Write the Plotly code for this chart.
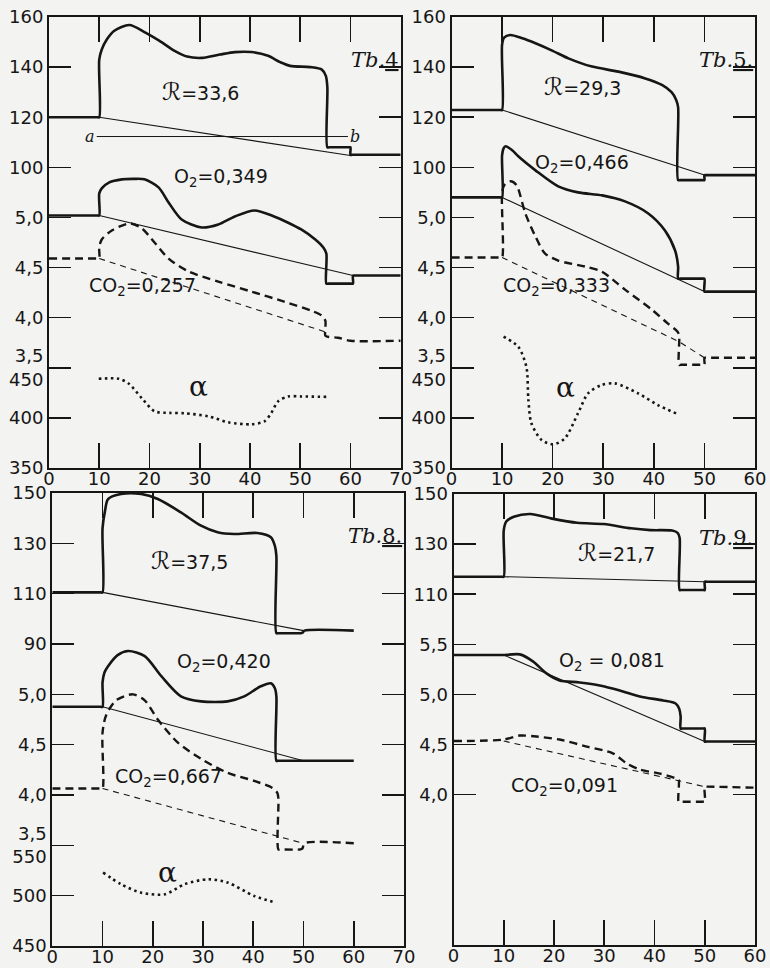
import plotly.graph_objects as go

# ---------------- DATA ----------------
# Tb.4
t4_R_x = [0, 9.6, 10, 10, 10.5, 11.5, 13, 16, 19, 22, 25, 27.5, 30.5, 34, 37, 40.3, 43.6, 46, 48, 52, 54.3, 55.1, 55.4, 55.4, 55.8, 59.7, 60, 60, 60.4, 70]
t4_R_y = [120, 120, 120, 143, 147, 151, 154.5, 156.8, 154, 150.5, 146.5, 144.2, 143.7, 145, 146, 146, 144.5, 142, 140.5, 140, 139, 136.5, 132, 108, 108, 108, 108, 105, 105, 105]
t4_Rb_x = [10, 60]
t4_Rb_y = [120, 104.7]
t4_ab_x = [9.5, 59.5]
t4_ab_y = [112.3, 112.3]
t4_O2_x = [0, 9.6, 10, 10, 10.5, 12, 14.5, 17, 19, 21.8, 23.8, 26.4, 30.4, 33.7, 37, 40.9, 44.8, 47.5, 50.2, 53, 54.6, 55.2, 55.2, 55.6, 60.1, 60.5, 60.5, 60.9, 70]
t4_O2_y = [5.02, 5.02, 5.02, 5.24, 5.29, 5.35, 5.38, 5.385, 5.38, 5.30, 5.15, 4.98, 4.90, 4.93, 5.01, 5.07, 5.01, 4.95, 4.88, 4.78, 4.70, 4.64, 4.34, 4.34, 4.34, 4.34, 4.42, 4.42, 4.42]
t4_O2b_x = [10, 60.5]
t4_O2b_y = [5.02, 4.42]
t4_CO2_x = [0, 9.6, 10, 10, 10.5, 12.5, 16.1, 18.5, 21, 23.8, 27.8, 33.7, 40.3, 46.8, 52.2, 54.3, 55, 55, 55.4, 57.5, 60, 70]
t4_CO2_y = [4.59, 4.59, 4.59, 4.70, 4.78, 4.87, 4.94, 4.89, 4.75, 4.59, 4.46, 4.36, 4.26, 4.16, 4.07, 4.02, 3.97, 3.82, 3.81, 3.80, 3.77, 3.77]
t4_CO2b_x = [10, 55.5]
t4_CO2b_y = [4.59, 3.85]
t4_A_x = [9.9, 13.9, 15.9, 18.5, 21, 24, 27, 31.7, 35.7, 40.3, 42.9, 44.2, 45.6, 47.6, 50.2, 55.2]
t4_A_y = [439, 439, 434, 419.5, 406.6, 405, 404.6, 401.6, 395.6, 393.6, 396.6, 404.6, 416.5, 421.4, 421.4, 421]

# Tb.5
t5_R_x = [0, 9.6, 10, 10, 10.4, 11.6, 14, 16.6, 20, 23.1, 27.8, 33, 38.3, 41.6, 43.5, 44.4, 44.8, 44.8, 45.2, 49.6, 50, 50, 50.4, 60]
t5_R_y = [122.9, 122.9, 122.9, 149, 151.8, 152.8, 151.5, 149.5, 146.5, 143.5, 140.2, 138.2, 135.5, 132.9, 130, 127, 124, 94.9, 94.9, 94.9, 94.9, 96.9, 96.9, 96.9]
t5_Rb_x = [10, 50]
t5_Rb_y = [122.9, 96.9]
t5_O2_x = [0, 9.6, 10, 10, 10.3, 10.7, 12, 13.2, 16.6, 21.1, 25, 29.8, 34.3, 38.9, 42.2, 44.2, 44.8, 44.8, 45.2, 49.6, 50, 50, 50.4, 60]
t5_O2_y = [5.20, 5.20, 5.20, 5.62, 5.69, 5.71, 5.67, 5.61, 5.47, 5.31, 5.25, 5.22, 5.16, 5.04, 4.87, 4.67, 4.51, 4.39, 4.39, 4.39, 4.39, 4.26, 4.26, 4.26]
t5_O2b_x = [10, 50]
t5_O2b_y = [5.20, 4.26]
t5_CO2_x = [0, 9.6, 10, 10, 10.4, 11.5, 12.3, 13, 14.6, 16.6, 18.5, 21.1, 26.4, 29.7, 34.3, 39.6, 42.8, 44.7, 45, 45, 45.4, 49.6, 50, 50, 50.4, 60]
t5_CO2_y = [4.60, 4.60, 4.60, 5.24, 5.32, 5.36, 5.35, 5.31, 5.04, 4.81, 4.64, 4.57, 4.51, 4.46, 4.28, 4.08, 3.94, 3.86, 3.82, 3.53, 3.53, 3.53, 3.53, 3.60, 3.60, 3.60]
t5_CO2b_x = [10, 45, 50]
t5_CO2b_y = [4.60, 3.76, 3.60]
t5_A_x = [10.3, 13.2, 14.8, 15.2, 15.8, 17.8, 20.1, 22.4, 25, 27, 29.6, 32.3, 36.9, 40.8, 44.4]
t5_A_y = [481, 471, 451, 418, 394.6, 378, 373.6, 379.5, 404.5, 424.5, 432.7, 434.4, 424.5, 412.8, 404.5]

# Tb.8
t8_R_x = [0, 9.6, 10, 10, 10.5, 11.1, 13.7, 17.7, 21, 25.6, 29.6, 32.9, 36.2, 40.8, 43.5, 44.3, 44.6, 44.6, 45, 49.4, 49.8, 50.2, 60]
t8_R_y = [110.5, 110.5, 110.5, 136, 143, 147.6, 149.6, 149.6, 147.6, 142.3, 137, 134.4, 133.7, 134.1, 132.4, 129, 125, 94.3, 94.3, 94.3, 94.5, 95.3, 95.3]
t8_Rb_x = [10, 50]
t8_Rb_y = [110.5, 95.3]
t8_O2_x = [0, 9.6, 10, 10, 10.4, 11.1, 13, 15.1, 18.4, 21.7, 25.6, 29.6, 34.9, 38.2, 41.5, 43.5, 44.3, 44.6, 44.6, 45, 60]
t8_O2_y = [4.876, 4.876, 4.876, 5.12, 5.22, 5.28, 5.39, 5.43, 5.38, 5.18, 4.98, 4.93, 4.93, 4.98, 5.08, 5.11, 5.06, 4.98, 4.34, 4.34, 4.34]
t8_O2b_x = [10, 50]
t8_O2b_y = [4.876, 4.34]
t8_CO2_x = [0, 9.6, 10, 10, 10.7, 12.7, 16, 18.4, 21, 25, 29.6, 34.9, 40.2, 43.8, 44.8, 45, 45, 45.4, 49.4, 49.8, 50.2, 60]
t8_CO2_y = [4.065, 4.065, 4.065, 4.62, 4.79, 4.94, 5.00, 4.94, 4.75, 4.52, 4.36, 4.22, 4.14, 4.07, 4.02, 3.96, 3.46, 3.46, 3.46, 3.47, 3.52, 3.52]
t8_CO2b_x = [10, 50]
t8_CO2b_y = [4.065, 3.52]
t8_A_x = [10.1, 13.7, 17.7, 22.4, 26.3, 31, 34.9, 40.2, 44.5]
t8_A_y = [523, 511.3, 503, 501.4, 511.3, 516.3, 513, 499.7, 493]

# Tb.9
t9_R_x = [0, 9.6, 10, 10, 10.5, 12, 15.3, 19.3, 24.6, 29.9, 35.3, 39.2, 43.5, 44.6, 45, 45, 45.4, 49.6, 50, 50, 50.4, 60]
t9_R_y = [117, 117, 117, 135.5, 139, 140.9, 142, 140.3, 138.5, 138, 136.3, 135.6, 135.4, 134.5, 132.5, 111.7, 111.7, 111.7, 111.7, 115, 115, 115]
t9_Rb_x = [10, 50]
t9_Rb_y = [117, 115]
t9_O2_x = [0, 9.6, 10, 13.2, 15.8, 18.5, 21.1, 25.1, 29.1, 33.1, 37.1, 41.7, 44.2, 44.9, 45.2, 45.2, 45.6, 49.6, 50, 50, 50.4, 60]
t9_O2_y = [5.393, 5.393, 5.393, 5.40, 5.33, 5.21, 5.14, 5.12, 5.09, 5.04, 4.98, 4.94, 4.91, 4.86, 4.78, 4.66, 4.66, 4.66, 4.66, 4.53, 4.53, 4.53]
t9_O2b_x = [10, 50]
t9_O2b_y = [5.393, 4.53]
t9_CO2_x = [0, 10, 13.2, 16.5, 21.1, 26.5, 31.8, 34.5, 37.1, 41.1, 44.4, 44.8, 44.8, 45.2, 49.6, 50, 50, 50.4, 60]
t9_CO2_y = [4.535, 4.55, 4.59, 4.58, 4.55, 4.48, 4.41, 4.31, 4.25, 4.21, 4.16, 4.15, 3.93, 3.93, 3.93, 3.93, 4.08, 4.08, 4.07]
t9_CO2b_x = [10, 50]
t9_CO2b_y = [4.535, 4.08]

# labels
R_SYM = "<span style='font-size:24px'>ℛ</span>"
t4_labels = [R_SYM + "=33,6", "O<sub>2</sub>=0,349", "CO<sub>2</sub>=0,257", "α"]
t5_labels = [R_SYM + "=29,3", "O<sub>2</sub>=0,466", "CO<sub>2</sub>=0,333", "α"]
t8_labels = [R_SYM + "=37,5", "O<sub>2</sub>=0,420", "CO<sub>2</sub>=0,667", "α"]
t9_labels = [R_SYM + "=21,7", "O<sub>2</sub> = 0,081", "CO<sub>2</sub>=0,091", None]
titles = ["4", "5.", "8.", "9."]

x_ticks_70 = [0, 10, 20, 30, 40, 50, 60, 70]
x_ticks_60 = [0, 10, 20, 30, 40, 50, 60]

# ---------------- FIGURE ----------------
W, H = 770, 968
INK = "#161616"
BG = "#f3f3f1"
FONT = "DejaVu Sans"

panels = [
    dict(px=(49, 400.7), py=(17, 468), xmax=70, Rtop=160, Abot=350,
         R_ticks=[100, 120, 140, 160], A_ticks=[350, 400], A_mid="450",
         gas_ticks=[3.5, 4.0, 4.5, 5.0],
         data=dict(R=(t4_R_x, t4_R_y), Rb=(t4_Rb_x, t4_Rb_y), O2=(t4_O2_x, t4_O2_y),
                   O2b=(t4_O2b_x, t4_O2b_y), CO2=(t4_CO2_x, t4_CO2_y), CO2b=(t4_CO2b_x, t4_CO2b_y),
                   A=(t4_A_x, t4_A_y)),
         labels=t4_labels, lpos=[(30.2, 130.2), (34.3, 5.40), (18.6, 4.31), (29.7, 431)],
         title=titles[0], title_y=142.9),
    dict(px=(451.5, 755), py=(17, 468), xmax=60, Rtop=160, Abot=350,
         R_ticks=[100, 120, 140, 160], A_ticks=[350, 400], A_mid="450",
         gas_ticks=[3.5, 4.0, 4.5, 5.0],
         data=dict(R=(t5_R_x, t5_R_y), Rb=(t5_Rb_x, t5_Rb_y), O2=(t5_O2_x, t5_O2_y),
                   O2b=(t5_O2b_x, t5_O2b_y), CO2=(t5_CO2_x, t5_CO2_y), CO2b=(t5_CO2b_x, t5_CO2b_y),
                   A=(t5_A_x, t5_A_y)),
         labels=t5_labels, lpos=[(25.9, 132.2), (25.7, 5.54), (20.7, 4.31), (22.5, 430)],
         title=titles[1], title_y=142.8),
    dict(px=(52.3, 404), py=(493, 946), xmax=70, Rtop=150, Abot=450,
         R_ticks=[90, 110, 130, 150], A_ticks=[450, 500], A_mid="550",
         gas_ticks=[3.5, 4.0, 4.5, 5.0],
         data=dict(R=(t8_R_x, t8_R_y), Rb=(t8_Rb_x, t8_Rb_y), O2=(t8_O2_x, t8_O2_y),
                   O2b=(t8_O2b_x, t8_O2b_y), CO2=(t8_CO2_x, t8_CO2_y), CO2b=(t8_CO2b_x, t8_CO2b_y),
                   A=(t8_A_x, t8_A_y)),
         labels=t8_labels, lpos=[(27.3, 123.1), (34.1, 5.32), (23.2, 4.17), (23.0, 523)],
         title=titles[2], title_y=132.9),
    dict(px=(453.5, 755), py=(494, 945), xmax=60, Rtop=150, Abot=None,
         R_ticks=[110, 130, 150], A_ticks=[], A_mid=None,
         gas_ticks=[4.0, 4.5, 5.0, 5.5],
         data=dict(R=(t9_R_x, t9_R_y), Rb=(t9_Rb_x, t9_Rb_y), O2=(t9_O2_x, t9_O2_y),
                   O2b=(t9_O2b_x, t9_O2b_y), CO2=(t9_CO2_x, t9_CO2_y), CO2b=(t9_CO2b_x, t9_CO2b_y)),
         labels=t9_labels, lpos=[(32.5, 126.3), (31.5, 5.33), (22.1, 4.08), None],
         title=titles[3], title_y=132.4),
]

fig = go.Figure()
layout = dict(width=W, height=H, autosize=False, margin=dict(l=0, r=0, t=0, b=0, autoexpand=False),
              paper_bgcolor=BG, plot_bgcolor="rgba(0,0,0,0)", showlegend=False,
              hovermode=False)
annotations = []
tickfont = dict(family=FONT, size=18, color=INK)
ycommon = dict(ticks="inside", ticklen=22, tickwidth=1.6, tickcolor=INK, showline=True,
               linewidth=2, linecolor=INK, mirror="ticks", showgrid=False, zeroline=False,
               tickfont=tickfont, fixedrange=True, automargin=False)


def fmt(v):
    return f"{v:.1f}".replace(".", ",")


for i, p in enumerate(panels):
    n = i + 1
    xname = "x" if n == 1 else f"x{n}"
    gnum = 3 * i + 1
    g_name = "y" if gnum == 1 else f"y{gnum}"
    r_name = f"y{gnum + 1}"
    a_name = f"y{gnum + 2}"
    xdom = [p["px"][0] / W, p["px"][1] / W]
    ydom = [1 - p["py"][1] / H, 1 - p["py"][0] / H]
    xt = x_ticks_70 if p["xmax"] == 70 else x_ticks_60
    layout[("xaxis" if n == 1 else f"xaxis{n}")] = dict(
        domain=xdom, range=[0, p["xmax"]], anchor=g_name, tickvals=xt,
        ticktext=[str(v) for v in xt], ticks="inside", ticklen=25, tickwidth=1.6,
        tickcolor=INK, showline=True, linewidth=2, linecolor=INK, mirror="ticks",
        showgrid=False, zeroline=False, tickfont=tickfont, fixedrange=True, automargin=False,
        ticklabelstandoff=-7)
    gtext = [("3,5<br>" + p["A_mid"]) if (v == 3.5 and p["A_mid"]) else fmt(v)
             for v in p["gas_ticks"]]
    layout[("yaxis" if gnum == 1 else f"yaxis{gnum}")] = dict(
        domain=ydom, range=[2.5, 7.0], anchor=xname, tickvals=p["gas_ticks"],
        ticktext=gtext, **ycommon)
    layout[f"yaxis{gnum + 1}"] = dict(
        domain=ydom, range=[p["Rtop"] - 180, p["Rtop"]], anchor=xname, overlaying=g_name,
        side="left", tickvals=p["R_ticks"], ticktext=[str(v) for v in p["R_ticks"]],
        **ycommon)
    if p["Abot"] is not None:
        layout[f"yaxis{gnum + 2}"] = dict(
            domain=ydom, range=[p["Abot"], p["Abot"] + 450], anchor=xname, overlaying=g_name,
            side="left", tickvals=p["A_ticks"], ticktext=[str(v) for v in p["A_ticks"]],
            **ycommon)
    else:
        # unlabeled lower ticks of Tb.9 (gas scale 2.5 .. 3.5)
        layout[f"yaxis{gnum + 2}"] = dict(
            domain=ydom, range=[2.5, 7.0], anchor=xname, overlaying=g_name,
            side="left", tickvals=[3.0, 3.5], showticklabels=False, **ycommon)

    d = p["data"]

    def add(key, yax, width, dash=None, shape="spline"):
        xs, ys = d[key]
        fig.add_trace(go.Scatter(x=xs, y=ys, xaxis=xname, yaxis=yax, mode="lines",
                                 line=dict(color=INK, width=width, dash=dash, shape=shape,
                                           smoothing=0.8 if shape == "spline" else None),
                                 hoverinfo="skip"))
    add("Rb", r_name, 1.1, shape="linear")
    add("O2b", g_name, 1.1, shape="linear")
    add("CO2b", g_name, 1.1, dash="6px,5px", shape="linear")
    add("R", r_name, 2.6)
    add("O2", g_name, 2.6)
    add("CO2", g_name, 2.4, dash="8px,5px")
    if "A" in d:
        add("A", a_name, 2.6, dash="2.5px,3.5px")

    labs, pos = p["labels"], p["lpos"]
    axes_for = [r_name, g_name, g_name, a_name]
    for lab, ps, ya in zip(labs, pos, axes_for):
        if lab is None:
            continue
        is_alpha = lab == "α"
        annotations.append(dict(
            x=ps[0], y=ps[1], xref=xname, yref=ya, text=lab, showarrow=False,
            font=dict(family="DejaVu Serif" if is_alpha else FONT,
                      size=28 if is_alpha else 19, color=INK),
            xanchor="center", yanchor="middle"))
    annotations.append(dict(
        x=p["xmax"], y=p["title_y"], xref=xname, yref=r_name,
        text="<i>Tb.</i><span style='text-decoration:underline'>" + p["title"] + "</span>",
        showarrow=False, font=dict(family="DejaVu Serif", size=21, color=INK),
        xanchor="right", yanchor="middle"))

# a-b reference line in Tb.4
fig.add_trace(go.Scatter(x=t4_ab_x, y=t4_ab_y, xaxis="x", yaxis="y2", mode="lines",
                         line=dict(color=INK, width=1), hoverinfo="skip"))
annotations.append(dict(x=t4_ab_x[0], y=t4_ab_y[0], xref="x", yref="y2", text="<i>a</i>",
                        showarrow=False, xanchor="right", yanchor="middle",
                        font=dict(family="DejaVu Serif", size=16, color=INK)))
annotations.append(dict(x=t4_ab_x[1], y=t4_ab_y[1], xref="x", yref="y2", text="<i>b</i>",
                        showarrow=False, xanchor="left", yanchor="middle",
                        font=dict(family="DejaVu Serif", size=16, color=INK)))

layout["annotations"] = annotations
fig.update_layout(**layout)
fig.write_html("out.html", config=dict(displayModeBar=False, staticPlot=True),
               post_script="document.body.style.margin='0';document.body.style.overflow='hidden';"
                           "document.body.style.background='" + BG + "';")
